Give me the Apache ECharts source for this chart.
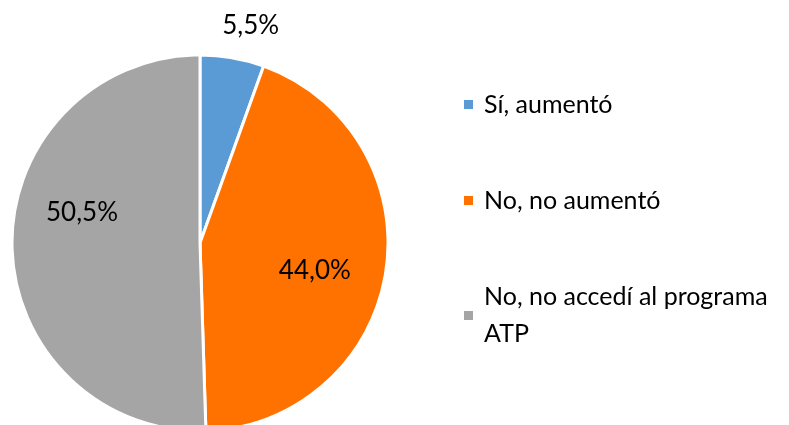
<!DOCTYPE html>
<html>
<head>
<meta charset="utf-8">
<script src="https://cdn.jsdelivr.net/npm/echarts@6/dist/echarts.min.js"></script>
<style>
  html, body { margin: 0; padding: 0; background: #fff; }
  #chart { width: 789px; height: 425px; }
</style>
</head>
<body>
<div id="chart"></div>
<script>
// datos de la torta
const categories = ["Sí, aumentó", "No, no aumentó", "No, no accedí al programa ATP"];
const values = [5.5, 44.0, 50.5];
const colors = ["#5B9BD5", "#FF7200", "#A5A5A5"];
// ajuste de las etiquetas (dx, dy) respecto de la posición interior
const labelShift = [[34, -122], [19, 12], [-21, -32]];
// posición vertical de cada leyenda
const legendTops = [81, 177, 255];

const fontFamily = "Lato";
const lineH = 37;

let seriesData = [];
for (var i = 0; i < categories.length; i++) {
  seriesData.push({
    name: categories[i],
    value: values[i],
    itemStyle: { color: colors[i] },
  });
}

// una leyenda por elemento, para poder alinear el cuadrito con la primera línea
let legends = [];
for (var j = 0; j < categories.length; j++) {
  legends.push({
    orient: "vertical",
    left: 457,
    top: legendTops[j],
    itemWidth: 11,
    itemHeight: 11,
    icon: "rect",
    selectedMode: false,
    data: [categories[j]],
    // la última palabra de la tercera leyenda baja a otra línea
    formatter: j === 2
      ? function (name) { return name.replace(/ (\S+)$/, "\n$1"); }
      : "{name}",
    textStyle: {
      fontFamily: fontFamily,
      fontSize: 25,
      color: "#000",
      lineHeight: lineH,
      padding: j === 2 ? [lineH, 0, 0, 5] : [0, 0, 0, 5],
    },
  });
}

let myChart = echarts.init(document.getElementById("chart"));
myChart.setOption({
  animation: false,
  legend: legends,
  series: [
    {
      type: "pie",
      center: [200, 243],
      radius: [0, 188],
      startAngle: 90,
      clockwise: true,
      itemStyle: { borderColor: "#fff", borderWidth: 3 },
      label: {
        show: true,
        position: "inside",
        fontFamily: fontFamily,
        fontSize: 26,
        color: "#000",
        formatter: function (p) {
          return p.value.toFixed(1).replace(".", ",") + "%";
        },
      },
      labelLine: { show: false },
      labelLayout: function (p) {
        return { dx: labelShift[p.dataIndex][0], dy: labelShift[p.dataIndex][1] };
      },
      data: seriesData,
    },
  ],
});
window.addEventListener("resize", function () {
  myChart.resize();
});
</script>
</body>
</html>
